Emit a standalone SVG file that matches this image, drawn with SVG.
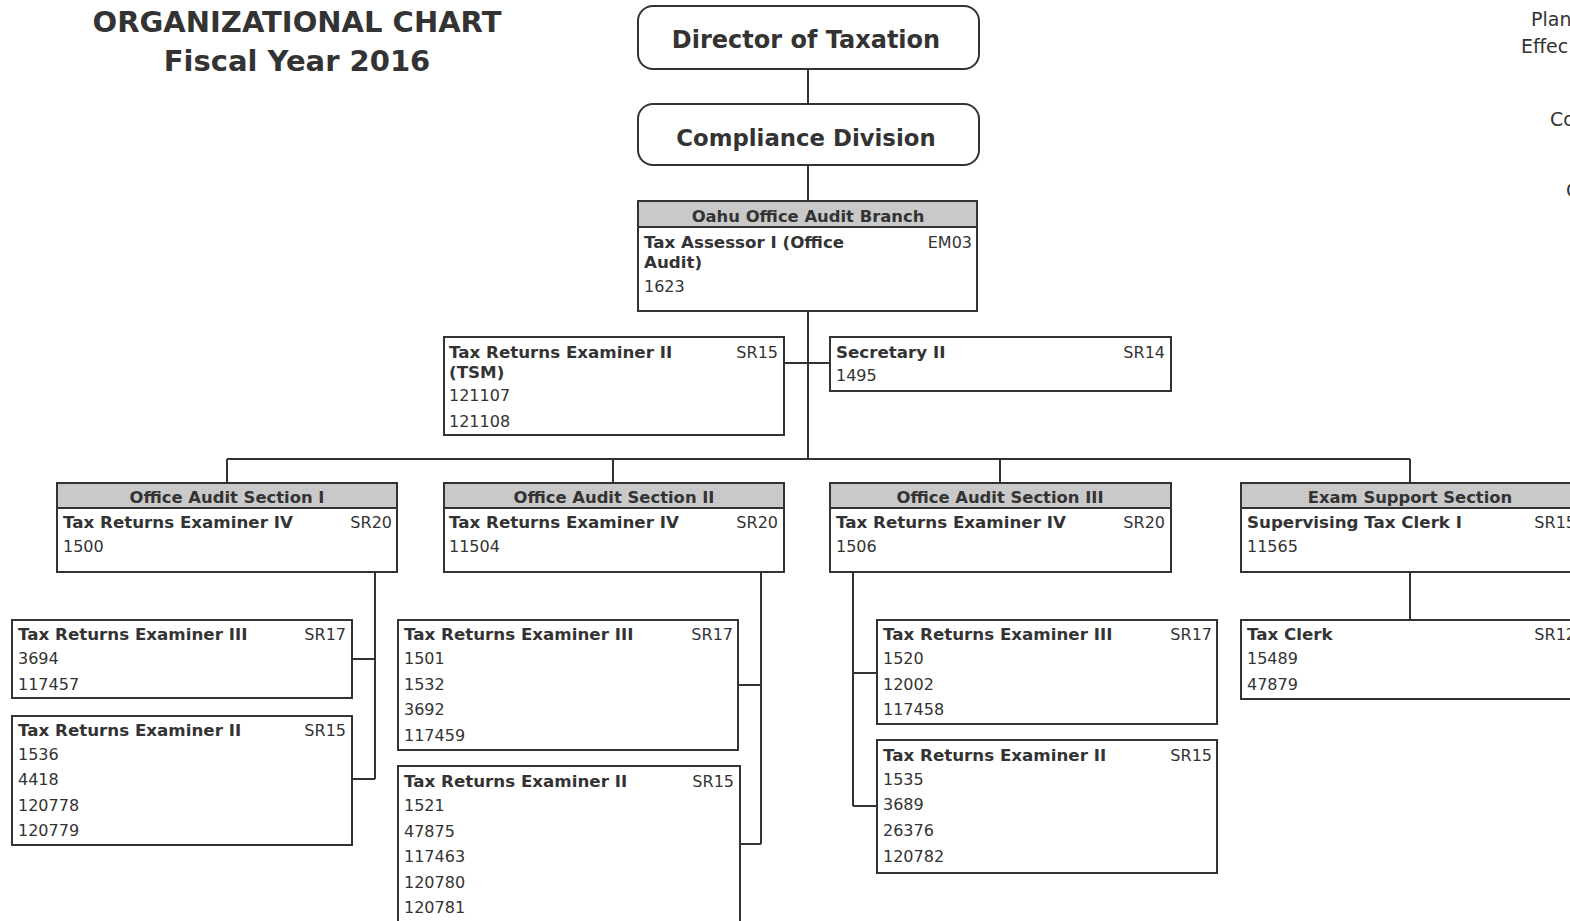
<svg xmlns="http://www.w3.org/2000/svg" width="1570" height="921" viewBox="0 0 1570 921">
<style>
text{font-family:"DejaVu Sans","Liberation Sans",sans-serif;fill:#333;}
.b{font-weight:bold;font-size:16.7px;}
.r{font-size:16px;}
.e{text-anchor:end;}
.c{text-anchor:middle;}
.h{font-weight:bold;font-size:16.4px;text-anchor:middle;}
.box{fill:#fff;stroke:#333;stroke-width:2;}
.hd{fill:#c9c9c9;stroke:#333;stroke-width:2;}
.rb{fill:#fff;stroke:#333;stroke-width:2;}
.cn{stroke:#333;stroke-width:2;fill:none;}
</style>
<rect width="1570" height="921" fill="#fff"/>
<g id="title">
<text x="297" y="32" class="c" style="font-weight:bold;font-size:29px">ORGANIZATIONAL CHART</text>
<text x="297" y="71" class="c" style="font-weight:bold;font-size:29px">Fiscal Year 2016</text>
</g>
<g id="corner-notes">
<text x="1531" y="26" style="font-size:19px">Plan</text>
<text x="1521" y="53" style="font-size:19px">Effec</text>
<text x="1550" y="126" style="font-size:19px">Co</text>
<text x="1566" y="197" style="font-size:19px">C</text>
</g>
<g id="connectors">
<path class="cn" d="M808 69V104M808 165V201M808 311V459M784 363H830M227 459H1410M227 459V483M613 459V483M1000 459V483M1410 459V483"/>
<path class="cn" d="M375 572V779M352 659H375M352 779H375"/>
<path class="cn" d="M761 572V844M738 685H761M740 844H761"/>
<path class="cn" d="M853 572V806M853 673H877M853 806H877"/>
<path class="cn" d="M1410 572V620"/>
</g>
<g id="director">
<rect class="rb" x="638" y="6" width="341" height="63" rx="15"/>
<text x="806" y="48" class="c" style="font-weight:bold;font-size:24px">Director of Taxation</text>
</g>
<g id="compliance">
<rect class="rb" x="638" y="104" width="341" height="61" rx="15"/>
<text x="806" y="146" class="c" style="font-weight:bold;font-size:22.8px">Compliance Division</text>
</g>
<g id="oahu-branch">
<rect class="box" x="638" y="201" width="339" height="110"/>
<rect class="hd" x="638" y="201" width="339" height="26"/>
<text x="808" y="222" class="h">Oahu Office Audit Branch</text>
<text x="644" y="248" class="b">Tax Assessor I (Office</text>
<text x="644" y="268" class="b">Audit)</text>
<text x="972" y="248" class="r e">EM03</text>
<text x="644" y="292" class="r">1623</text>
</g>
<g id="tre2-tsm">
<rect class="box" x="444" y="337" width="340" height="98"/>
<text x="449" y="358" class="b">Tax Returns Examiner II</text>
<text x="449" y="378" class="b">(TSM)</text>
<text x="778" y="358" class="r e">SR15</text>
<text x="449" y="401" class="r">121107</text>
<text x="449" y="427" class="r">121108</text>
</g>
<g id="secretary">
<rect class="box" x="830" y="337" width="341" height="54"/>
<text x="836" y="358" class="b">Secretary II</text>
<text x="1165" y="358" class="r e">SR14</text>
<text x="836" y="381" class="r">1495</text>
</g>
<g id="section1">
<rect class="box" x="57" y="483" width="340" height="89"/>
<rect class="hd" x="57" y="483" width="340" height="25"/>
<text x="227" y="503" class="h">Office Audit Section I</text>
<text x="63" y="528" class="b">Tax Returns Examiner IV</text>
<text x="392" y="528" class="r e">SR20</text>
<text x="63" y="552" class="r">1500</text>
</g>
<g id="section2">
<rect class="box" x="444" y="483" width="340" height="89"/>
<rect class="hd" x="444" y="483" width="340" height="25"/>
<text x="614" y="503" class="h">Office Audit Section II</text>
<text x="449" y="528" class="b">Tax Returns Examiner IV</text>
<text x="778" y="528" class="r e">SR20</text>
<text x="449" y="552" class="r">11504</text>
</g>
<g id="section3">
<rect class="box" x="830" y="483" width="341" height="89"/>
<rect class="hd" x="830" y="483" width="341" height="25"/>
<text x="1000" y="503" class="h">Office Audit Section III</text>
<text x="836" y="528" class="b">Tax Returns Examiner IV</text>
<text x="1165" y="528" class="r e">SR20</text>
<text x="836" y="552" class="r">1506</text>
</g>
<g id="exam-support">
<rect class="box" x="1241" y="483" width="340" height="89"/>
<rect class="hd" x="1241" y="483" width="340" height="25"/>
<text x="1410" y="503" class="h">Exam Support Section</text>
<text x="1247" y="528" class="b">Supervising Tax Clerk I</text>
<text x="1576" y="528" class="r e">SR15</text>
<text x="1247" y="552" class="r">11565</text>
</g>
<g id="s1-tre3">
<rect class="box" x="12" y="620" width="340" height="78"/>
<text x="18" y="640" class="b">Tax Returns Examiner III</text>
<text x="346" y="640" class="r e">SR17</text>
<text x="18" y="664" class="r">3694</text>
<text x="18" y="690" class="r">117457</text>
</g>
<g id="s1-tre2">
<rect class="box" x="12" y="716" width="340" height="129"/>
<text x="18" y="736" class="b">Tax Returns Examiner II</text>
<text x="346" y="736" class="r e">SR15</text>
<text x="18" y="760" class="r">1536</text>
<text x="18" y="785" class="r">4418</text>
<text x="18" y="811" class="r">120778</text>
<text x="18" y="836" class="r">120779</text>
</g>
<g id="s2-tre3">
<rect class="box" x="398" y="620" width="340" height="130"/>
<text x="404" y="640" class="b">Tax Returns Examiner III</text>
<text x="733" y="640" class="r e">SR17</text>
<text x="404" y="664" class="r">1501</text>
<text x="404" y="690" class="r">1532</text>
<text x="404" y="715" class="r">3692</text>
<text x="404" y="741" class="r">117459</text>
</g>
<g id="s2-tre2">
<rect class="box" x="398" y="766" width="342" height="165"/>
<text x="404" y="787" class="b">Tax Returns Examiner II</text>
<text x="734" y="787" class="r e">SR15</text>
<text x="404" y="811" class="r">1521</text>
<text x="404" y="837" class="r">47875</text>
<text x="404" y="862" class="r">117463</text>
<text x="404" y="888" class="r">120780</text>
<text x="404" y="913" class="r">120781</text>
</g>
<g id="s3-tre3">
<rect class="box" x="877" y="620" width="340" height="104"/>
<text x="883" y="640" class="b">Tax Returns Examiner III</text>
<text x="1212" y="640" class="r e">SR17</text>
<text x="883" y="664" class="r">1520</text>
<text x="883" y="690" class="r">12002</text>
<text x="883" y="715" class="r">117458</text>
</g>
<g id="s3-tre2">
<rect class="box" x="877" y="740" width="340" height="133"/>
<text x="883" y="761" class="b">Tax Returns Examiner II</text>
<text x="1212" y="761" class="r e">SR15</text>
<text x="883" y="785" class="r">1535</text>
<text x="883" y="810" class="r">3689</text>
<text x="883" y="836" class="r">26376</text>
<text x="883" y="862" class="r">120782</text>
</g>
<g id="tax-clerk">
<rect class="box" x="1241" y="620" width="340" height="79"/>
<text x="1247" y="640" class="b">Tax Clerk</text>
<text x="1576" y="640" class="r e">SR12</text>
<text x="1247" y="664" class="r">15489</text>
<text x="1247" y="690" class="r">47879</text>
</g>
</svg>
